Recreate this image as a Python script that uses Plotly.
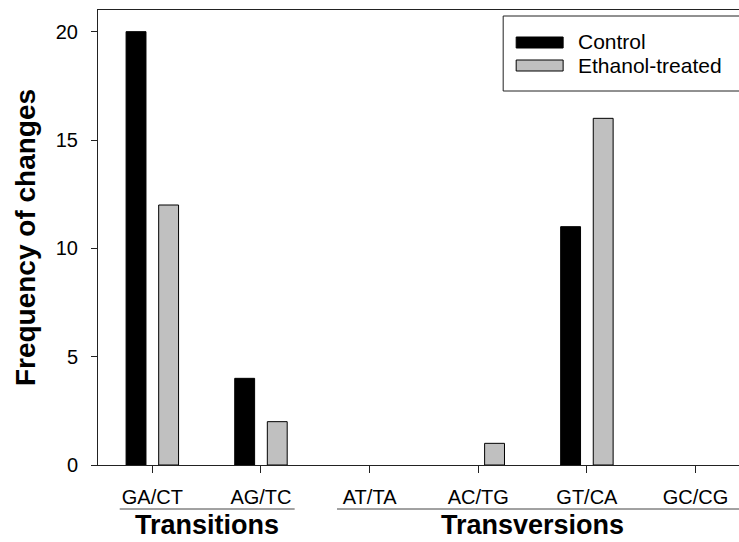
import plotly.graph_objects as go

categories = ["GA/CT", "AG/TC", "AT/TA", "AC/TG", "GT/CA", "GC/CG"]
control = [20, 4, 0, 0, 11, 0]
ethanol = [12, 2, 0, 1, 16, 0]
y_ticks = [0, 5, 10, 15, 20]
groups = [("Transitions", 0, 1), ("Transversions", 2, 5)]
series = [("Control", control, "black"), ("Ethanol-treated", ethanol, "#c0c0c0")]

FONT = "Liberation Sans, Arial, sans-serif"

def outline_widths(vals):
    return [1 if v else 0 for v in vals]

fig = go.Figure()
for name, vals, color in series:
    fig.add_trace(go.Bar(
        name=name, x=categories, y=vals, showlegend=False,
        marker=dict(color=color, line=dict(color="black", width=outline_widths(vals))),
    ))

W, H = 739, 542
L, R, T, B = 97.5, 0, 10, 77
PW, PH = W - L - R, H - T - B

def px(x):
    return (x - L) / PW

def py(y):
    return (H - B - y) / PH

fig.update_layout(
    width=W, height=H,
    margin=dict(l=L, r=R, t=T, b=B, autoexpand=False),
    paper_bgcolor="white", plot_bgcolor="white",
    barmode="group", bargap=0.4, bargroupgap=0.39,
    font=dict(family=FONT, size=20, color="black"),
    xaxis=dict(
        type="category", range=[-0.5, 5.4], automargin=False,
        showline=True, linecolor="#222", linewidth=1, mirror=True,
        ticks="outside", ticklen=7, tickcolor="#222",
        showgrid=False, zeroline=False, ticklabelstandoff=7,
        tickfont=dict(size=20),
    ),
    yaxis=dict(
        range=[0, 21], tickvals=y_ticks, automargin=False,
        showline=True, linecolor="#222", linewidth=1, mirror=False,
        ticks="outside", ticklen=6, tickcolor="#222",
        showgrid=False, zeroline=False, ticklabelstandoff=9,
        tickfont=dict(size=20),
        title=dict(text="<b>Frequency of changes</b>", font=dict(size=28), standoff=11),
    ),
)

# legend box (right side runs off the canvas as in the reference)
fig.add_shape(type="rect", xref="paper", yref="paper",
              x0=px(503), x1=px(760), y0=py(91), y1=py(16),
              line=dict(color="#222", width=1), fillcolor="white", layer="above")
for k, (name, vals, color) in enumerate(series):
    top = 37 + 23 * k
    fig.add_shape(type="rect", xref="paper", yref="paper",
                  x0=px(516), x1=px(563), y0=py(top + 11), y1=py(top),
                  line=dict(color="black", width=1), fillcolor=color, layer="above")
    fig.add_annotation(text=name, xref="paper", yref="paper",
                       x=px(576), y=py(top + 5), xanchor="left", yanchor="middle",
                       showarrow=False, font=dict(size=21, family=FONT))

for name, i0, i1 in groups:
    x0 = i0 - 0.30
    x1 = i1 + 0.31 if i1 < len(categories) - 1 else i1 + 0.6
    fig.add_shape(type="line", xref="x", yref="paper",
                  x0=x0, x1=x1, y0=py(509), y1=py(509),
                  line=dict(color="#444", width=1))
    fig.add_annotation(text=f"<b>{name}</b>", xref="x", yref="paper",
                       x=(i0 + i1) / 2, y=py(525), xanchor="center", yanchor="middle",
                       showarrow=False, font=dict(size=27, family=FONT))

fig.write_html("out.html", config={"displayModeBar": False},
               post_script="document.body.style.margin='0';document.body.style.overflow='hidden';")
